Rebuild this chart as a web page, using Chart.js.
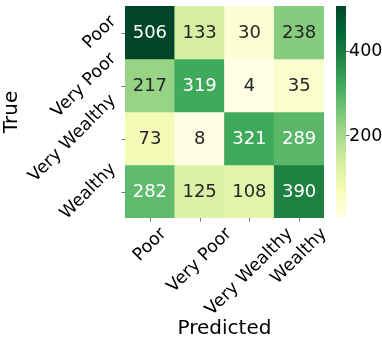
<!DOCTYPE html>
<html>
<head>
<meta charset="utf-8">
<script src="https://cdn.jsdelivr.net/npm/chart.js@4.4.0/dist/chart.umd.min.js"></script>
<style>
  html, body { margin: 0; padding: 0; background: #fff; }
  #wrap { width: 382px; height: 344px; }
</style>
</head>
<body>
<div id="wrap"><canvas id="confusion" width="382" height="344"></canvas></div>
<script>
// confusion matrix, rows = true class, columns = predicted class
var trueLabels = ['Poor', 'Very Poor', 'Very Wealthy', 'Wealthy'];
var predictedLabels = ['Poor', 'Very Poor', 'Very Wealthy', 'Wealthy'];
var rowPoor = [506, 133, 30, 238];
var rowVeryPoor = [217, 319, 4, 35];
var rowVeryWealthy = [73, 8, 321, 289];
var rowWealthy = [282, 125, 108, 390];
var colorbarTicks = [200, 400];

var rows = [rowPoor, rowVeryPoor, rowVeryWealthy, rowWealthy];
var allValues = [].concat(rowPoor, rowVeryPoor, rowVeryWealthy, rowWealthy);
var vmin = Math.min.apply(null, allValues);
var vmax = Math.max.apply(null, allValues);

// YlGn (colorbrewer, 9 classes)
var ylgn = ['#ffffe5', '#f7fcb9', '#d9f0a3', '#addd8e', '#78c679', '#41ab5d', '#238443', '#006837', '#004529'];

function hexToRgb(h){
    return [parseInt(h.substr(1, 2), 16), parseInt(h.substr(3, 2), 16), parseInt(h.substr(5, 2), 16)];
}

function cmapRgb(v){
    var t = (v - vmin) / (vmax - vmin);
    t = Math.max(0, Math.min(1, t));
    var pos = t * (ylgn.length - 1);
    var i = Math.min(Math.floor(pos), ylgn.length - 2);
    var f = pos - i;
    var a = hexToRgb(ylgn[i]), b = hexToRgb(ylgn[i + 1]);
    return [0, 1, 2].map(function(k){ return Math.round(a[k] + (b[k] - a[k]) * f); });
}

function cmap(v){
    var c = cmapRgb(v);
    return 'rgb(' + c[0] + ',' + c[1] + ',' + c[2] + ')';
}

// same rule seaborn uses for annotation colour
function textColor(v){
    var c = cmapRgb(v).map(function(x){
        x = x / 255;
        return x <= 0.03928 ? x / 12.92 : Math.pow((x + 0.055) / 1.055, 2.4);
    });
    var lum = 0.2126 * c[0] + 0.7152 * c[1] + 0.0722 * c[2];
    return lum > 0.408 ? '#262626' : '#ffffff';
}

var datasets = rows.map(function(row, r){
    return {
        label: trueLabels[r],
        data: row.map(function(){ return [r, r + 1]; }),
        backgroundColor: row.map(cmap),
        borderWidth: 0,
        grouped: false,
        barPercentage: 1,
        categoryPercentage: 1
    };
});

var FONT = '"DejaVu Sans", sans-serif';
var TICK_SIZE = 17.5;

function drawRotated(ctx, text, cx, cy){
    ctx.save();
    ctx.translate(cx, cy);
    ctx.rotate(-Math.PI / 4);
    ctx.textAlign = 'center';
    ctx.textBaseline = 'middle';
    ctx.fillText(text, 0, 0);
    ctx.restore();
}

var heatmapDecor = {
    id: 'heatmapDecor',
    afterDatasetsDraw: function(chart){
        var ctx = chart.ctx;
        var area = chart.chartArea;
        var xs = chart.scales.x, ys = chart.scales.y, cb = chart.scales.cb;

        // cell annotations
        ctx.save();
        ctx.font = '18px ' + FONT;
        ctx.textAlign = 'center';
        ctx.textBaseline = 'middle';
        rows.forEach(function(row, r){
            var meta = chart.getDatasetMeta(r);
            meta.data.forEach(function(bar, c){
                ctx.fillStyle = textColor(row[c]);
                ctx.fillText(String(row[c]), bar.x, (bar.y + bar.base) / 2 + 1);
            });
        });
        ctx.restore();

        // tick marks
        ctx.save();
        ctx.strokeStyle = '#777';
        ctx.lineWidth = 1;
        ctx.beginPath();
        predictedLabels.forEach(function(l, i){
            var x = Math.round(xs.getPixelForValue(i)) + 0.5;
            ctx.moveTo(x, area.bottom);
            ctx.lineTo(x, area.bottom + 3.5);
        });
        trueLabels.forEach(function(l, i){
            var y = Math.round(ys.getPixelForValue(i + 0.5)) + 0.5;
            ctx.moveTo(area.left - 3.5, y);
            ctx.lineTo(area.left, y);
        });
        ctx.stroke();
        ctx.restore();

        // rotated tick labels
        ctx.save();
        ctx.font = TICK_SIZE + 'px ' + FONT;
        ctx.fillStyle = '#000';
        var lineH = TICK_SIZE * 1.16;
        predictedLabels.forEach(function(l, i){
            var H = (ctx.measureText(l).width + lineH) / Math.SQRT2;
            drawRotated(ctx, l, xs.getPixelForValue(i), area.bottom + 6 + H / 2);
        });
        trueLabels.forEach(function(l, i){
            var H = (ctx.measureText(l).width + lineH) / Math.SQRT2;
            drawRotated(ctx, l, area.left - 4.5 - H / 2, ys.getPixelForValue(i + 0.5));
        });
        ctx.restore();

        // colorbar
        var cbLeft = area.right + 12, cbWidth = 10;
        var yTop = cb.getPixelForValue(vmax), yBot = cb.getPixelForValue(vmin);
        ctx.save();
        var grad = ctx.createLinearGradient(0, yBot, 0, yTop);
        ylgn.forEach(function(c, i){ grad.addColorStop(i / (ylgn.length - 1), c); });
        ctx.fillStyle = grad;
        ctx.fillRect(cbLeft, yTop, cbWidth, yBot - yTop);
        ctx.strokeStyle = '#777';
        ctx.beginPath();
        colorbarTicks.forEach(function(v){
            var y = Math.round(cb.getPixelForValue(v)) + 0.5;
            ctx.moveTo(cbLeft + cbWidth, y);
            ctx.lineTo(cbLeft + cbWidth + 3.5, y);
        });
        ctx.stroke();
        ctx.font = TICK_SIZE + 'px ' + FONT;
        ctx.fillStyle = '#000';
        ctx.textAlign = 'left';
        ctx.textBaseline = 'middle';
        colorbarTicks.forEach(function(v){
            ctx.fillText(String(v), cbLeft + cbWidth + 3, cb.getPixelForValue(v) + 1);
        });
        ctx.restore();

        // axis titles
        ctx.save();
        ctx.font = '20px ' + FONT;
        ctx.fillStyle = '#000';
        ctx.textAlign = 'center';
        ctx.textBaseline = 'middle';
        ctx.fillText('Predicted', (area.left + area.right) / 2, 329);
        ctx.translate(12, (area.top + area.bottom) / 2);
        ctx.rotate(-Math.PI / 2);
        ctx.fillText('True', 0, 0);
        ctx.restore();
    }
};

var chart = new Chart(document.getElementById('confusion'), {
    type: 'bar',
    data: {
        labels: predictedLabels,
        datasets: datasets
    },
    options: {
        responsive: false,
        animation: false,
        devicePixelRatio: 1,
        events: [],
        layout: {
            padding: {left: 125, top: 6, right: 58, bottom: 126}
        },
        plugins: {
            legend: {display: false},
            tooltip: {enabled: false}
        },
        scales: {
            x: {type: 'category', display: false},
            y: {type: 'linear', min: 0, max: 4, reverse: true, display: false},
            cb: {type: 'linear', position: 'right', min: vmin, max: vmax, display: false}
        }
    },
    plugins: [heatmapDecor]
});
</script>
</body>
</html>
